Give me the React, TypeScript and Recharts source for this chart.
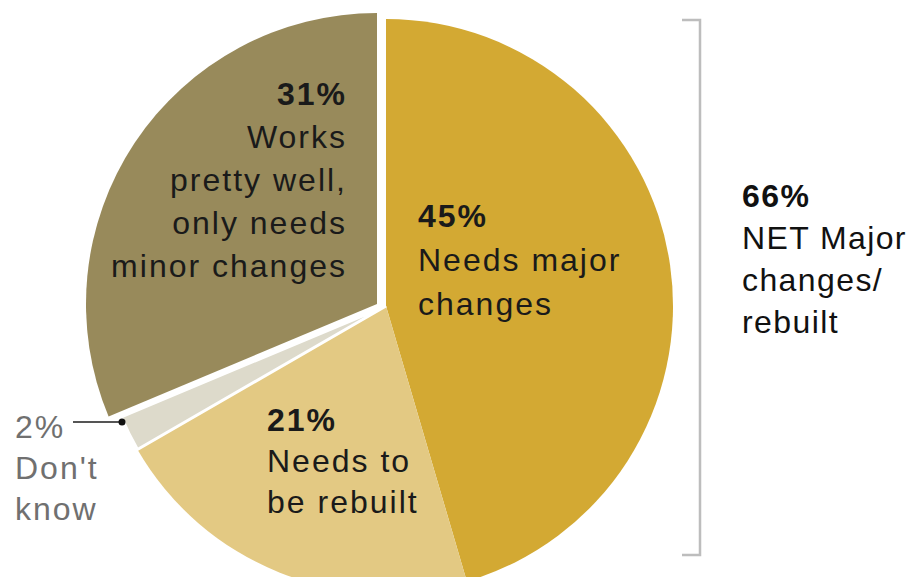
import React from 'react';
import { PieChart, Pie, Cell } from 'recharts';

const categories = [
  'Needs major changes',
  'Needs to be rebuilt',
  "Don't know",
  'Works pretty well, only needs minor changes',
];
const values = [45, 21, 2, 31];
const pctLabels = ['45%', '21%', '2%', '31%'];
const labelLines = [
  ['Needs major', 'changes'],
  ['Needs to', 'be rebuilt'],
  ["Don't", 'know'],
  ['Works', 'pretty well,', 'only needs', 'minor changes'],
];
const netLabel = ['66%', 'NET Major', 'changes/', 'rebuilt'];
const colors = ['#D3A933', '#E3C983', '#DDDACB', '#988A5B'];

const data = categories.map((name, i) => ({ name, value: values[i] }));

const FONT = '"Liberation Sans", Arial, sans-serif';
const W = 912;
const H = 577;
const CX = 386;
const CY = 306;
const R = 287;

// label layout relative to the pie centre
const layout = [
  { dx: 32, dy: -79, lh: 44, anchor: 'start', color: '#1a1a1a', bold: true },
  { dx: -119, dy: 125, lh: 41, anchor: 'start', color: '#1a1a1a', bold: true },
  { dx: -371, dy: 132, lh: 41, anchor: 'start', color: '#707070', bold: false },
  { dx: -39, dy: -201, lh: 43, anchor: 'end', color: '#1a1a1a', bold: true },
];

const renderLabel = (props: any) => {
  const { index } = props;
  const L = layout[index];
  const x = CX + L.dx;
  const y = CY + L.dy;
  const lines = [pctLabels[index], ...labelLines[index]];
  return (
    <g key={`lbl-${index}`}>
      <text
        x={x}
        y={y}
        textAnchor={L.anchor as any}
        fontFamily={FONT}
        fontSize={32}
        letterSpacing={2}
        fill={L.color}
      >
        {lines.map((t, i) => (
          <tspan key={i} x={x} dy={i === 0 ? 0 : L.lh} fontWeight={i === 0 && L.bold ? 700 : 400}>
            {t}
          </tspan>
        ))}
      </text>
      {index === 2 && (
        <g>
          <line x1={CX - 313} y1={CY + 116} x2={CX - 264} y2={CY + 116} stroke="#555" strokeWidth={2} />
          <circle cx={CX - 264} cy={CY + 116} r={3.5} fill="#111" />
        </g>
      )}
      {index === 0 && (
        <g>
          <polyline
            points={`${CX + 296},${CY - 286} ${CX + 314},${CY - 286} ${CX + 314},${CY + 249} ${CX + 296},${CY + 249}`}
            fill="none"
            stroke="#BDBDBD"
            strokeWidth={2.5}
          />
          <text x={CX + 356} y={CY - 99} fontFamily={FONT} fontSize={32} letterSpacing={1.4} fill="#111">
            {netLabel.map((t, i) => (
              <tspan key={i} x={CX + 356} dy={i === 0 ? 0 : 42} fontWeight={i === 0 ? 700 : 400}>
                {t}
              </tspan>
            ))}
          </text>
        </g>
      )}
    </g>
  );
};

export default function App() {
  return (
    <div style={{ position: 'absolute', left: 0, top: 0, width: W, height: H, background: '#fff' }}>
      <PieChart width={W} height={H} margin={{ top: 0, right: 0, bottom: 0, left: 0 }}>
        <Pie
          data={data}
          dataKey="value"
          nameKey="name"
          cx={CX}
          cy={CY}
          outerRadius={R}
          startAngle={90}
          endAngle={-270}
          stroke="none"
          isAnimationActive={false}
          labelLine={false}
          label={renderLabel}
        >
          {data.map((d, i) => (
            <Cell key={i} fill={i < 2 ? colors[i] : 'none'} stroke="none" />
          ))}
        </Pie>
        <Pie
          data={data}
          dataKey="value"
          nameKey="name"
          cx={CX}
          cy={CY}
          outerRadius={R}
          startAngle={90}
          endAngle={-270}
          isAnimationActive={false}
        >
          {data.map((d, i) => (
            <Cell
              key={i}
              fill={i === 2 ? colors[2] : 'none'}
              stroke={i === 2 ? '#fff' : 'none'}
              strokeWidth={i === 2 ? 3 : 0}
            />
          ))}
        </Pie>
        <Pie
          data={data}
          dataKey="value"
          nameKey="name"
          cx={CX - 9}
          cy={CY - 2}
          outerRadius={R + 4}
          startAngle={90}
          endAngle={-270}
          isAnimationActive={false}
        >
          {data.map((d, i) => (
            <Cell key={i} fill={i === 3 ? colors[3] : 'none'} stroke="none" />
          ))}
        </Pie>
      </PieChart>
    </div>
  );
}
